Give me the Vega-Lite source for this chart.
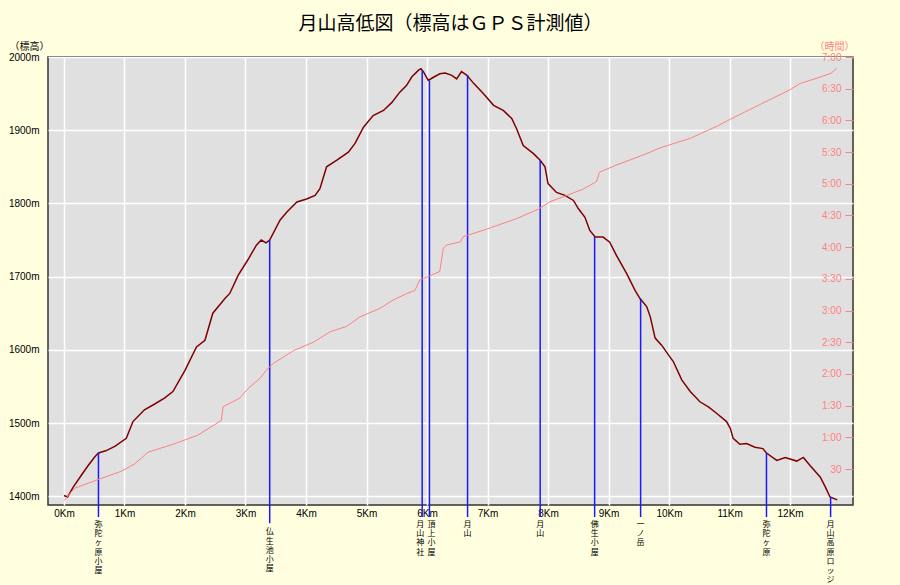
{
  "$schema": "https://vega.github.io/schema/vega-lite/v6.json",
  "width": 805,
  "height": 448,
  "autosize": {"type": "none"},
  "padding": {"left": 48, "top": 57, "right": 47, "bottom": 80},
  "background": "#FFFFE0",
  "title": {
    "text": "月山高低図（標高はＧＰＳ計測値）",
    "font": "Noto Sans CJK JP",
    "fontSize": 19,
    "fontWeight": "normal",
    "color": "#000000",
    "anchor": "middle",
    "frame": "group",
    "offset": 7
  },
  "config": {
    "view": {"fill": "#E0E0E0", "stroke": "#333333", "strokeWidth": 1.5},
    "axis": {"domain": false, "labelFont": "Liberation Sans", "labelFontSize": 10, "labelColor": "#000000", "titleFont": "Noto Sans CJK JP", "titleFontSize": 10, "titleFontWeight": "normal"}
  },
  "datasets": {
    "elev": [
      {"km": 0.00, "elev": 1401}, {"km": 0.06, "elev": 1399}, {"km": 0.15, "elev": 1412}, {"km": 0.29, "elev": 1429},
      {"km": 0.40, "elev": 1442}, {"km": 0.51, "elev": 1454}, {"km": 0.57, "elev": 1459}, {"km": 0.69, "elev": 1462},
      {"km": 0.84, "elev": 1468}, {"km": 1.03, "elev": 1479}, {"km": 1.14, "elev": 1502}, {"km": 1.33, "elev": 1518},
      {"km": 1.50, "elev": 1526}, {"km": 1.66, "elev": 1534}, {"km": 1.80, "elev": 1543}, {"km": 2.00, "elev": 1572},
      {"km": 2.19, "elev": 1604}, {"km": 2.33, "elev": 1613}, {"km": 2.46, "elev": 1650}, {"km": 2.66, "elev": 1670},
      {"km": 2.74, "elev": 1677}, {"km": 2.88, "elev": 1702}, {"km": 3.04, "elev": 1723}, {"km": 3.18, "elev": 1743},
      {"km": 3.26, "elev": 1750}, {"km": 3.34, "elev": 1746}, {"km": 3.40, "elev": 1750}, {"km": 3.57, "elev": 1777},
      {"km": 3.68, "elev": 1788}, {"km": 3.85, "elev": 1802}, {"km": 4.01, "elev": 1806}, {"km": 4.15, "elev": 1811},
      {"km": 4.23, "elev": 1820}, {"km": 4.34, "elev": 1850}, {"km": 4.51, "elev": 1859}, {"km": 4.70, "elev": 1870},
      {"km": 4.81, "elev": 1882}, {"km": 4.95, "elev": 1904}, {"km": 5.11, "elev": 1920}, {"km": 5.28, "elev": 1927},
      {"km": 5.42, "elev": 1938}, {"km": 5.55, "elev": 1952}, {"km": 5.66, "elev": 1961}, {"km": 5.75, "elev": 1973},
      {"km": 5.86, "elev": 1982}, {"km": 5.90, "elev": 1984}, {"km": 5.94, "elev": 1980}, {"km": 6.02, "elev": 1968},
      {"km": 6.10, "elev": 1972}, {"km": 6.21, "elev": 1977}, {"km": 6.30, "elev": 1978}, {"km": 6.41, "elev": 1975},
      {"km": 6.49, "elev": 1970}, {"km": 6.57, "elev": 1980}, {"km": 6.66, "elev": 1975}, {"km": 6.77, "elev": 1964},
      {"km": 6.93, "elev": 1950}, {"km": 7.10, "elev": 1934}, {"km": 7.26, "elev": 1927}, {"km": 7.40, "elev": 1916},
      {"km": 7.48, "elev": 1902}, {"km": 7.59, "elev": 1879}, {"km": 7.76, "elev": 1868}, {"km": 7.87, "elev": 1859},
      {"km": 7.95, "elev": 1850}, {"km": 8.00, "elev": 1827}, {"km": 8.14, "elev": 1815}, {"km": 8.28, "elev": 1811},
      {"km": 8.42, "elev": 1804}, {"km": 8.50, "elev": 1793}, {"km": 8.61, "elev": 1781}, {"km": 8.69, "elev": 1763},
      {"km": 8.78, "elev": 1754}, {"km": 8.91, "elev": 1754}, {"km": 9.02, "elev": 1747}, {"km": 9.13, "elev": 1729},
      {"km": 9.30, "elev": 1704}, {"km": 9.44, "elev": 1681}, {"km": 9.52, "elev": 1670}, {"km": 9.63, "elev": 1659},
      {"km": 9.69, "elev": 1645}, {"km": 9.77, "elev": 1616}, {"km": 9.88, "elev": 1606}, {"km": 9.99, "elev": 1593},
      {"km": 10.07, "elev": 1584}, {"km": 10.21, "elev": 1559}, {"km": 10.35, "elev": 1543}, {"km": 10.51, "elev": 1529},
      {"km": 10.65, "elev": 1522}, {"km": 10.79, "elev": 1513}, {"km": 10.95, "elev": 1502}, {"km": 11.01, "elev": 1493},
      {"km": 11.06, "elev": 1479}, {"km": 11.17, "elev": 1471}, {"km": 11.28, "elev": 1472}, {"km": 11.42, "elev": 1467},
      {"km": 11.55, "elev": 1465}, {"km": 11.61, "elev": 1459}, {"km": 11.78, "elev": 1449}, {"km": 11.92, "elev": 1453},
      {"km": 12.11, "elev": 1448}, {"km": 12.22, "elev": 1453}, {"km": 12.33, "elev": 1442}, {"km": 12.50, "elev": 1426},
      {"km": 12.58, "elev": 1413}, {"km": 12.66, "elev": 1399}, {"km": 12.78, "elev": 1395}
    ],
    "time": [
      {"km": 0.00, "min": 0}, {"km": 0.10, "min": 7}, {"km": 0.18, "min": 12}, {"km": 0.56, "min": 20},
      {"km": 0.95, "min": 28}, {"km": 1.17, "min": 35}, {"km": 1.39, "min": 46}, {"km": 1.83, "min": 54},
      {"km": 2.21, "min": 62}, {"km": 2.60, "min": 76}, {"km": 2.63, "min": 89}, {"km": 2.90, "min": 97},
      {"km": 3.04, "min": 106}, {"km": 3.24, "min": 116}, {"km": 3.35, "min": 124}, {"km": 3.46, "min": 130},
      {"km": 3.79, "min": 142}, {"km": 4.12, "min": 150}, {"km": 4.40, "min": 160}, {"km": 4.67, "min": 165},
      {"km": 4.89, "min": 174}, {"km": 5.22, "min": 182}, {"km": 5.44, "min": 190}, {"km": 5.66, "min": 196},
      {"km": 5.80, "min": 199}, {"km": 5.88, "min": 209}, {"km": 6.05, "min": 213}, {"km": 6.21, "min": 217},
      {"km": 6.27, "min": 239}, {"km": 6.32, "min": 242}, {"km": 6.55, "min": 245}, {"km": 6.60, "min": 250},
      {"km": 6.93, "min": 256}, {"km": 7.48, "min": 267}, {"km": 7.84, "min": 276}, {"km": 8.03, "min": 283},
      {"km": 8.31, "min": 289}, {"km": 8.58, "min": 295}, {"km": 8.80, "min": 302}, {"km": 8.85, "min": 311},
      {"km": 9.14, "min": 318}, {"km": 9.47, "min": 325}, {"km": 9.69, "min": 330}, {"km": 9.85, "min": 334},
      {"km": 10.35, "min": 343}, {"km": 10.81, "min": 355}, {"km": 11.01, "min": 361}, {"km": 11.50, "min": 375},
      {"km": 12.00, "min": 389}, {"km": 12.17, "min": 395}, {"km": 12.50, "min": 401}, {"km": 12.69, "min": 405},
      {"km": 12.74, "min": 408}, {"km": 12.77, "min": 409}
    ],
    "pts": [
      {"km": 0.57, "elev": 1459, "name": "弥陀ヶ原小屋"},
      {"km": 3.40, "elev": 1750, "name": "仏生池小屋"},
      {"km": 5.92, "elev": 1982, "name": "月山神社"},
      {"km": 6.04, "elev": 1968, "name": "頂上小屋"},
      {"km": 6.67, "elev": 1975, "name": "月山"},
      {"km": 7.87, "elev": 1859, "name": "月山"},
      {"km": 8.77, "elev": 1754, "name": "佛生小屋"},
      {"km": 9.53, "elev": 1670, "name": "一ノ岳"},
      {"km": 11.61, "elev": 1459, "name": "弥陀ヶ原"},
      {"km": 12.67, "elev": 1399, "name": "月山高原ロッジ"}
    ]
  },
  "layer": [
    {
      "layer": [
        {
          "data": {"name": "elev"},
          "mark": {"type": "line", "color": "#800000", "strokeWidth": 1.5},
          "encoding": {
            "x": {"field": "km", "type": "quantitative",
              "scale": {"domain": [-0.264, 13.04], "nice": false, "zero": false},
              "axis": {"values": [0,1,2,3,4,5,6,7,8,9,10,11,12], "labelExpr": "datum.value + 'Km'", "title": null,
                "ticks": false, "tickSize": 0, "labelPadding": 3, "grid": true, "gridColor": "#FFFFFF", "gridWidth": 1.5, "labelFlush": false}},
            "y": {"field": "elev", "type": "quantitative",
              "scale": {"domain": [1388, 2000], "nice": false, "zero": false},
              "axis": {"orient": "left", "values": [1400,1450,1500,1550,1600,1650,1700,1750,1800,1850,1900,1950,2000],
                "labelExpr": "datum.value + 'm'", "ticks": false, "tickSize": 0, "labelPadding": 9,
                "grid": true, "gridColor": "#FFFFFF", "gridWidth": 1.5,
                "title": "（標高）", "titleAngle": 0, "titleX": -19, "titleY": -11, "titleAlign": "center", "titleBaseline": "middle", "titleColor": "#000000"}}
          }
        },
        {
          "data": {"name": "pts"},
          "transform": [{"filter": "datum.name != '仏生池小屋'"}],
          "mark": {"type": "rule", "color": "#1a1aff", "strokeWidth": 1.5},
          "encoding": {
            "x": {"field": "km", "type": "quantitative"},
            "y": {"field": "elev", "type": "quantitative"},
            "y2": {"datum": 1371.5}
          }
        },
        {
          "data": {"name": "pts"},
          "transform": [{"filter": "datum.name == '仏生池小屋'"}],
          "mark": {"type": "rule", "color": "#1a1aff", "strokeWidth": 1.5},
          "encoding": {
            "x": {"field": "km", "type": "quantitative"},
            "y": {"field": "elev", "type": "quantitative"},
            "y2": {"datum": 1363}
          }
        },
        {
          "data": {"name": "pts"},
          "transform": [
            {"filter": "datum.name != '仏生池小屋' && datum.name != '月山神社' && datum.name != '頂上小屋'"},
            {"calculate": "split(datum.name, '')", "as": "chars"}
          ],
          "mark": {"type": "text", "font": "Noto Sans CJK JP", "fontSize": 8, "lineHeight": 9.2, "baseline": "top", "align": "center", "color": "#000000"},
          "encoding": {
            "x": {"field": "km", "type": "quantitative"},
            "y": {"datum": 1366},
            "text": {"field": "chars", "type": "nominal"}
          }
        },
        {
          "data": {"name": "pts"},
          "transform": [
            {"filter": "datum.name == '仏生池小屋'"},
            {"calculate": "split(datum.name, '')", "as": "chars"}
          ],
          "mark": {"type": "text", "font": "Noto Sans CJK JP", "fontSize": 8, "lineHeight": 9.2, "baseline": "top", "align": "center", "color": "#000000"},
          "encoding": {
            "x": {"field": "km", "type": "quantitative"},
            "y": {"datum": 1356},
            "text": {"field": "chars", "type": "nominal"}
          }
        },
        {
          "data": {"name": "pts"},
          "transform": [
            {"filter": "datum.name == '月山神社'"},
            {"calculate": "split(datum.name, '')", "as": "chars"}
          ],
          "mark": {"type": "text", "font": "Noto Sans CJK JP", "fontSize": 8, "lineHeight": 9.2, "baseline": "top", "align": "center", "dx": -2, "color": "#000000"},
          "encoding": {
            "x": {"field": "km", "type": "quantitative"},
            "y": {"datum": 1366},
            "text": {"field": "chars", "type": "nominal"}
          }
        },
        {
          "data": {"name": "pts"},
          "transform": [
            {"filter": "datum.name == '頂上小屋'"},
            {"calculate": "split(datum.name, '')", "as": "chars"}
          ],
          "mark": {"type": "text", "font": "Noto Sans CJK JP", "fontSize": 8, "lineHeight": 9.2, "baseline": "top", "align": "center", "dx": 2, "color": "#000000"},
          "encoding": {
            "x": {"field": "km", "type": "quantitative"},
            "y": {"datum": 1366},
            "text": {"field": "chars", "type": "nominal"}
          }
        }
      ]
    },
    {
      "data": {"name": "time"},
      "mark": {"type": "line", "color": "#FF8080", "strokeWidth": 1},
      "encoding": {
        "x": {"field": "km", "type": "quantitative"},
        "y": {"field": "min", "type": "quantitative",
          "scale": {"domain": [-4, 420], "nice": false, "zero": false},
          "axis": {"orient": "right", "offset": -8, "values": [30,60,90,120,150,180,210,240,270,300,330,360,390,420],
            "labelExpr": "datum.value < 60 ? '' + datum.value : floor(datum.value / 60) + ':' + (datum.value % 60 == 0 ? '00' : '30')",
            "ticks": true, "tickSize": 8, "tickColor": "#FF8080", "tickWidth": 1, "labelAlign": "right", "labelPadding": -12,
            "labelColor": "#FF8080", "grid": false,
            "title": "（時間）", "titleAngle": 0, "titleX": -11, "titleY": -11, "titleAlign": "center", "titleBaseline": "middle", "titleColor": "#FF8080"}}
      }
    }
  ],
  "resolve": {"scale": {"y": "independent"}}
}
